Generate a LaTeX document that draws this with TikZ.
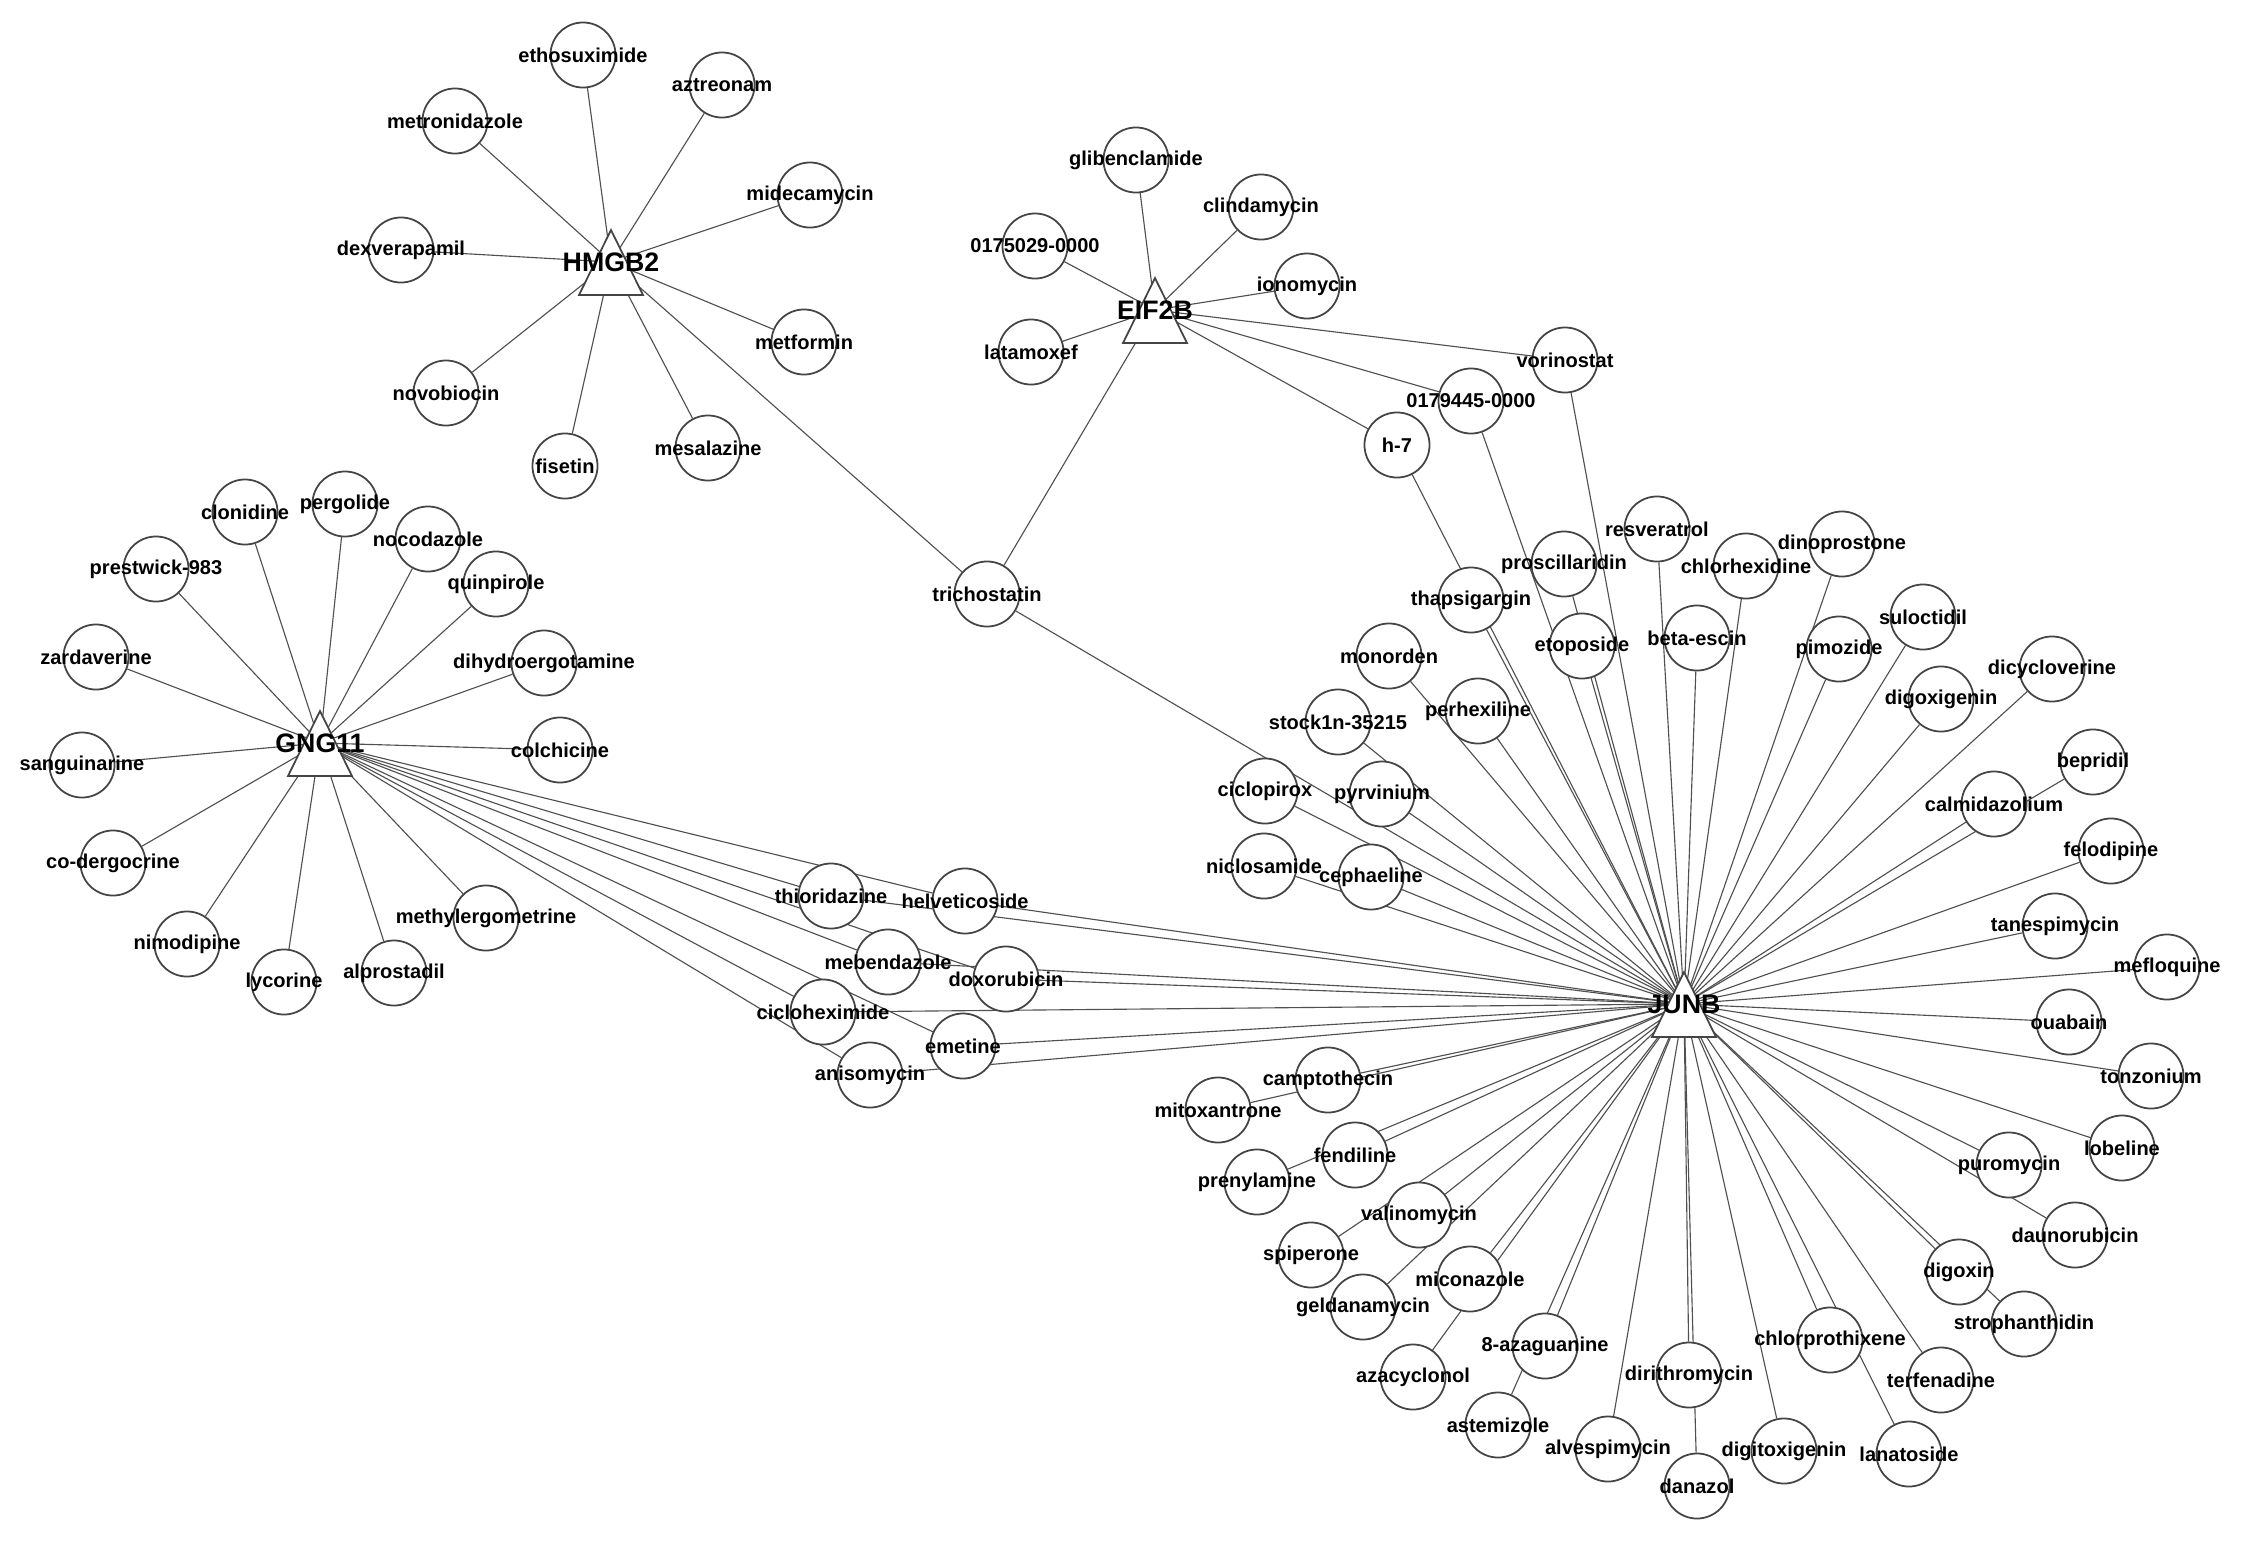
\documentclass[tikz,border=0pt]{standalone}
\usepackage{fontspec}
\setmainfont{Liberation Sans}
\pgfdeclarelayer{background}
\pgfdeclarelayer{foreground}
\pgfsetlayers{background,main,foreground}
\definecolor{rimgray}{HTML}{444444}
\definecolor{linkgray}{HTML}{505050}
\tikzset{
  drug/.style={circle,draw=rimgray,fill=white,line width=0.5pt,minimum size=0.65cm,inner sep=0pt},
  druglabel/.style={font=\fontsize{5.7}{6}\selectfont\bfseries,inner sep=0pt},
  hublabel/.style={font=\fontsize{7.6}{8}\selectfont\bfseries,inner sep=0pt},
  link/.style={draw=linkgray,line width=0.32pt},
  pics/hubtri/.style={code={\draw[draw=rimgray,fill=white,line width=0.5pt] (-32,33) -- (0,-32) -- (32,33) -- cycle;}}
}
\begin{document}
\begin{tikzpicture}[x=0.01cm,y=-0.01cm]
  \useasboundingbox (0,0) rectangle (2244,1542);
  \begin{pgfonlayer}{background}
    \fill[white] (0,0) rectangle (2244,1542);
  \end{pgfonlayer}

  % target genes
  \foreach \n/\t/\x/\y in {hmgb2/HMGB2/611/262, eif2b/EIF2B/1155/310,
      gng11/GNG11/320/743, junb/JUNB/1684/1004} {
    \coordinate (\n) at (\x,\y);
    \pic at (\n) {hubtri};
    \begin{pgfonlayer}{foreground}\node[hublabel] at (\n) {\t};\end{pgfonlayer}
  }

  % drugs
  \foreach \n/\x/\y in {
      ethosuximide/583/55, aztreonam/722/85, metronidazole/455/121,
      midecamycin/810/195, dexverapamil/401/250, metformin/804/342,
      novobiocin/446/393, fisetin/565/466, mesalazine/708/448,
      glibenclamide/1136/160, clindamycin/1261/207, 0175029-0000/1035/246,
      ionomycin/1307/286, latamoxef/1031/352, vorinostat/1565/360,
      0179445-0000/1471/401, h-7/1397/445, trichostatin/987/594,
      clonidine/245/512, pergolide/345/504, prestwick-983/156/569,
      nocodazole/428/539, quinpirole/496/584, zardaverine/96/657,
      dihydroergotamine/544/663, colchicine/560/750, sanguinarine/82/765,
      co-dergocrine/113/863, nimodipine/187/944, lycorine/284/982,
      alprostadil/394/973, methylergometrine/486/918,
      thioridazine/831/896, helveticoside/965/901, mebendazole/888/962,
      doxorubicin/1006/979, cicloheximide/823/1012, emetine/963/1046,
      anisomycin/870/1075,
      thapsigargin/1471/600, proscillaridin/1564/564, resveratrol/1657/529,
      etoposide/1582/646, monorden/1389/656, perhexiline/1478/711,
      stock1n-35215/1338/722, ciclopirox/1265/791, pyrvinium/1382/794,
      niclosamide/1264/866, cephaeline/1371/877, chlorhexidine/1746/566,
      dinoprostone/1842/544, beta-escin/1697/638, pimozide/1839/649,
      suloctidil/1923/617, digoxigenin/1941/699, dicycloverine/2052/669,
      bepridil/2093/762, calmidazolium/1994/804, felodipine/2111/851,
      tanespimycin/2055/926, mefloquine/2167/967, ouabain/2069/1022,
      tonzonium/2151/1076, lobeline/2122/1148, puromycin/2009/1165,
      daunorubicin/2075/1235, digoxin/1959/1272, strophanthidin/2024/1324,
      chlorprothixene/1830/1340, terfenadine/1941/1380,
      digitoxigenin/1784/1451, lanatoside/1909/1454, danazol/1697/1486,
      dirithromycin/1689/1375, camptothecin/1328/1080,
      mitoxantrone/1218/1110, fendiline/1355/1155, prenylamine/1257/1182,
      valinomycin/1419/1215, spiperone/1311/1255, miconazole/1470/1279,
      geldanamycin/1363/1307, 8-azaguanine/1545/1346,
      azacyclonol/1413/1377, astemizole/1498/1425, alvespimycin/1608/1449} {
    \node[drug] (\n) at (\x,\y) {};
    \begin{pgfonlayer}{foreground}\node[druglabel] at (\n) {\n};\end{pgfonlayer}
  }

  \begin{pgfonlayer}{background}
    \foreach \to in {ethosuximide,aztreonam,metronidazole,midecamycin,
        dexverapamil,metformin,novobiocin,fisetin,mesalazine,trichostatin}
      \draw[link] (hmgb2) -- (\to);
    \foreach \to in {glibenclamide,clindamycin,0175029-0000,ionomycin,
        latamoxef,vorinostat,0179445-0000,h-7,trichostatin}
      \draw[link] (eif2b) -- (\to);
    \foreach \to in {clonidine,pergolide,prestwick-983,nocodazole,quinpirole,
        zardaverine,dihydroergotamine,colchicine,sanguinarine,co-dergocrine,
        nimodipine,lycorine,alprostadil,methylergometrine,thioridazine,
        helveticoside,mebendazole,doxorubicin,cicloheximide,emetine,anisomycin}
      \draw[link] (gng11) -- (\to);
    \foreach \to in {trichostatin,vorinostat,0179445-0000,h-7,thapsigargin,
        proscillaridin,resveratrol,chlorhexidine,dinoprostone,etoposide,
        beta-escin,pimozide,suloctidil,digoxigenin,dicycloverine,bepridil,
        calmidazolium,felodipine,tanespimycin,mefloquine,ouabain,tonzonium,
        lobeline,puromycin,daunorubicin,digoxin,strophanthidin,terfenadine,
        chlorprothixene,lanatoside,digitoxigenin,dirithromycin,danazol,
        alvespimycin,astemizole,8-azaguanine,azacyclonol,miconazole,
        geldanamycin,valinomycin,spiperone,prenylamine,fendiline,
        mitoxantrone,camptothecin,monorden,perhexiline,stock1n-35215,
        pyrvinium,ciclopirox,cephaeline,niclosamide,thioridazine,
        helveticoside,mebendazole,doxorubicin,cicloheximide,emetine,anisomycin}
      \draw[link] (junb) -- (\to);
  \end{pgfonlayer}
\end{tikzpicture}
\end{document}
